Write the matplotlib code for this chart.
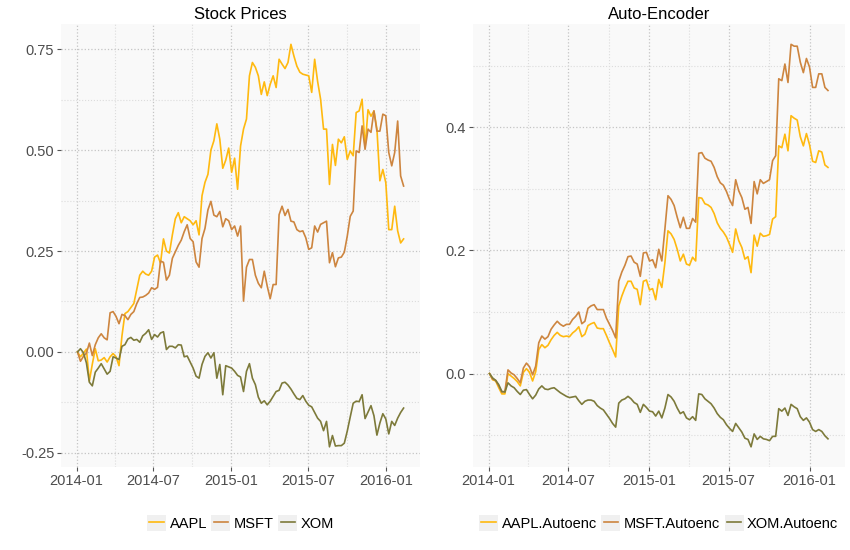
import numpy as np
import pandas as pd
import matplotlib
matplotlib.use('Agg')
import matplotlib.pyplot as plt
import matplotlib.dates as mdates
from matplotlib.legend_handler import HandlerLine2D
from matplotlib.patches import Rectangle
from matplotlib.ticker import FormatStrFormatter, MultipleLocator

plt.rcParams['font.family'] = ['Liberation Sans', 'DejaVu Sans']

# weekly cumulative returns
aapl = [0.00, -0.012, -0.003, 0.007, -0.072, -0.03, 0.008, -0.022, -0.02, -0.014,
        -0.025, -0.012, -0.004, -0.012, -0.034, 0.04, 0.095, 0.10, 0.11, 0.12,
        0.155, 0.19, 0.20, 0.193, 0.19, 0.20, 0.235, 0.24, 0.22, 0.28,
        0.25, 0.245, 0.29, 0.33, 0.345, 0.32, 0.335, 0.33, 0.325, 0.315,
        0.325, 0.29, 0.387, 0.42, 0.44, 0.50, 0.523, 0.565, 0.527, 0.455,
        0.475, 0.505, 0.445, 0.48, 0.403, 0.51, 0.552, 0.577, 0.684, 0.717,
        0.705, 0.684, 0.638, 0.669, 0.635, 0.663, 0.684, 0.655, 0.725, 0.713,
        0.702, 0.717, 0.762, 0.733, 0.708, 0.693, 0.688, 0.686, 0.684, 0.643,
        0.725, 0.67, 0.626, 0.552, 0.552, 0.415, 0.514, 0.462, 0.527, 0.518,
        0.533, 0.477, 0.498, 0.486, 0.593, 0.597, 0.626, 0.506, 0.60, 0.584,
        0.597, 0.552, 0.424, 0.452, 0.419, 0.303, 0.303, 0.361, 0.30, 0.27,
        0.28]
msft = [0.00, -0.023, -0.011, -0.003, 0.022, -0.009, 0.018, 0.035, 0.045, 0.035,
        0.03, 0.097, 0.10, 0.088, 0.07, 0.093, 0.09, 0.08, 0.093, 0.10,
        0.12, 0.135, 0.136, 0.14, 0.146, 0.159, 0.155, 0.16, 0.225, 0.222,
        0.178, 0.19, 0.232, 0.248, 0.264, 0.277, 0.298, 0.315, 0.281, 0.273,
        0.223, 0.21, 0.281, 0.306, 0.352, 0.373, 0.339, 0.335, 0.348, 0.31,
        0.33, 0.325, 0.303, 0.312, 0.287, 0.312, 0.126, 0.21, 0.229, 0.229,
        0.19, 0.17, 0.159, 0.20, 0.163, 0.132, 0.167, 0.167, 0.34, 0.361,
        0.338, 0.353, 0.324, 0.322, 0.303, 0.298, 0.30, 0.283, 0.254, 0.258,
        0.312, 0.297, 0.316, 0.32, 0.324, 0.221, 0.246, 0.211, 0.233, 0.235,
        0.247, 0.287, 0.336, 0.349, 0.498, 0.494, 0.56, 0.502, 0.552, 0.544,
        0.597, 0.547, 0.547, 0.589, 0.585, 0.494, 0.461, 0.494, 0.572, 0.436,
        0.411]
xom = [0.00, 0.008, -0.002, -0.027, -0.075, -0.084, -0.05, -0.04, -0.029, -0.042,
       -0.055, -0.048, -0.012, -0.015, -0.019, 0.014, 0.018, 0.032, 0.036, 0.029,
       0.031, 0.024, 0.04, 0.046, 0.055, 0.031, 0.043, 0.037, 0.047, 0.05,
       0.006, 0.014, 0.014, 0.01, 0.018, 0.017, -0.012, -0.01, -0.025, -0.04,
       -0.06, -0.065, -0.031, -0.011, -0.002, -0.015, -0.002, -0.065, -0.031, -0.106,
       -0.034, -0.037, -0.04, -0.048, -0.058, -0.062, -0.098, -0.048, -0.029, -0.065,
       -0.081, -0.112, -0.127, -0.121, -0.131, -0.122, -0.11, -0.098, -0.095, -0.077,
       -0.075, -0.082, -0.092, -0.104, -0.115, -0.118, -0.108, -0.122, -0.132, -0.136,
       -0.15, -0.164, -0.172, -0.195, -0.172, -0.235, -0.207, -0.233, -0.232, -0.232,
       -0.226, -0.196, -0.161, -0.127, -0.122, -0.123, -0.106, -0.165, -0.149, -0.133,
       -0.158, -0.206, -0.176, -0.153, -0.166, -0.203, -0.172, -0.182, -0.164, -0.15,
       -0.139]

aapl_ae = [0.00, -0.01, -0.012, -0.023, -0.033, -0.033, 0.0, -0.004, -0.008, -0.013,
           -0.02, 0.002, 0.008, 0.002, -0.012, 0.003, 0.039, 0.047, 0.042, 0.046,
           0.055, 0.062, 0.067, 0.062, 0.06, 0.061, 0.06, 0.066, 0.07, 0.076,
           0.06, 0.064, 0.078, 0.081, 0.083, 0.074, 0.073, 0.073, 0.062, 0.05,
           0.039, 0.027, 0.11, 0.126, 0.139, 0.15, 0.15, 0.139, 0.137, 0.112,
           0.15, 0.152, 0.136, 0.138, 0.12, 0.153, 0.14, 0.18, 0.232, 0.227,
           0.218, 0.202, 0.183, 0.194, 0.178, 0.176, 0.189, 0.183, 0.286, 0.285,
           0.276, 0.274, 0.27, 0.26, 0.245, 0.236, 0.23, 0.222, 0.21, 0.197,
           0.235, 0.216, 0.205, 0.186, 0.19, 0.164, 0.225, 0.207, 0.228, 0.223,
           0.224, 0.226, 0.251, 0.255, 0.37, 0.367, 0.389, 0.362, 0.419, 0.415,
           0.412, 0.385, 0.37, 0.39, 0.372, 0.345, 0.343, 0.362, 0.36, 0.339,
           0.335]
msft_ae = [0.00, -0.009, -0.011, -0.02, -0.03, -0.029, 0.006, 0.001, -0.002, -0.008,
           -0.015, 0.009, 0.017, 0.011, -0.002, 0.012, 0.05, 0.061, 0.056, 0.06,
           0.072, 0.079, 0.085, 0.08, 0.077, 0.08, 0.08, 0.088, 0.093, 0.10,
           0.081, 0.085, 0.106, 0.11, 0.112, 0.104, 0.104, 0.104, 0.09, 0.08,
           0.07, 0.058, 0.15, 0.165, 0.176, 0.19, 0.191, 0.181, 0.178, 0.158,
           0.196, 0.197, 0.183, 0.185, 0.172, 0.202, 0.183, 0.235, 0.289, 0.283,
           0.273, 0.254, 0.237, 0.254, 0.236, 0.236, 0.252, 0.246, 0.358, 0.359,
           0.35, 0.347, 0.345, 0.335, 0.32, 0.31, 0.306, 0.296, 0.283, 0.273,
           0.315, 0.297, 0.286, 0.267, 0.27, 0.244, 0.312, 0.292, 0.315, 0.309,
           0.312, 0.315, 0.346, 0.354, 0.479, 0.476, 0.503, 0.473, 0.535, 0.532,
           0.532, 0.506, 0.489, 0.512, 0.498, 0.465, 0.465, 0.487, 0.487, 0.465,
           0.46]
xom_ae = [0.00, -0.007, -0.011, -0.018, -0.029, -0.03, -0.015, -0.02, -0.023, -0.029,
          -0.034, -0.027, -0.026, -0.034, -0.041, -0.035, -0.025, -0.02, -0.025, -0.026,
          -0.024, -0.023, -0.027, -0.031, -0.034, -0.037, -0.039, -0.038, -0.037, -0.044,
          -0.05, -0.045, -0.043, -0.043, -0.045, -0.052, -0.056, -0.059, -0.066, -0.073,
          -0.081, -0.087, -0.048, -0.043, -0.041, -0.037, -0.041, -0.047, -0.05, -0.063,
          -0.05, -0.055, -0.061, -0.062, -0.069, -0.061, -0.072, -0.056, -0.034, -0.038,
          -0.045, -0.056, -0.065, -0.062, -0.072, -0.075, -0.07, -0.076, -0.033, -0.034,
          -0.041, -0.045, -0.049, -0.056, -0.065, -0.071, -0.075, -0.083, -0.089, -0.094,
          -0.081, -0.088, -0.095, -0.105, -0.107, -0.119, -0.098, -0.107, -0.102, -0.106,
          -0.107, -0.109, -0.102, -0.102, -0.057, -0.061, -0.056, -0.068, -0.05, -0.054,
          -0.057, -0.07, -0.076, -0.072, -0.079, -0.091, -0.094, -0.091, -0.094, -0.101,
          -0.106]

dates = pd.date_range('2014-01-03', periods=len(aapl), freq='7D')

colors = ['#FFB90F', '#CD853F', '#7D7A3A']


class KeyBox(HandlerLine2D):
    # ggplot-like legend key: grey square with a short line
    def create_artists(self, legend, orig_handle, xdescent, ydescent,
                       width, height, fontsize, trans):
        arts = super().create_artists(legend, orig_handle, xdescent, ydescent,
                                      width, height, fontsize, trans)
        line = arts[0]
        yd = np.asarray(line.get_ydata())
        line.set_data(np.linspace(-xdescent + 0.12 * width,
                                  -xdescent + 0.88 * width, len(yd)), yd)
        bg = Rectangle((-xdescent, -ydescent), width, height,
                       facecolor='#F0F0F0', edgecolor='none', transform=trans)
        return [bg] + list(arts)


def style(ax, title):
    ax.set_facecolor('#F9F9F9')
    for s in ax.spines.values():
        s.set_visible(False)
    ax.margins(x=0.05, y=0.05)
    ax.xaxis.set_major_locator(mdates.MonthLocator(bymonth=[1, 7]))
    ax.xaxis.set_minor_locator(mdates.MonthLocator(bymonth=[4, 10]))
    ax.xaxis.set_major_formatter(mdates.DateFormatter('%Y-%m'))
    ax.grid(True, which='major', linestyle=':', color='#C4C4C4', linewidth=0.9)
    ax.grid(True, which='minor', linestyle=':', color='#DCDCDC', linewidth=0.8)
    ax.tick_params(which='major', length=3, color='#555555', labelcolor='#4D4D4D',
                   labelsize=10.5, pad=2)
    ax.tick_params(which='minor', length=0)
    ax.set_axisbelow(True)
    ax.set_title(title, fontsize=12, pad=4)


fig = plt.figure(figsize=(8.5, 5.5), dpi=100)
ax1 = fig.add_axes([0.072, 0.151, 0.422, 0.805])
ax2 = fig.add_axes([0.556, 0.151, 0.438, 0.805])

for vals, name, c in zip([aapl, msft, xom], ['AAPL', 'MSFT', 'XOM'], colors):
    ax1.plot(dates, vals, color=c, lw=1.2, label=name)
for vals, name, c in zip([aapl_ae, msft_ae, xom_ae],
                         ['AAPL.Autoenc', 'MSFT.Autoenc', 'XOM.Autoenc'], colors):
    ax2.plot(dates, vals, color=c, lw=1.2, label=name)

style(ax1, 'Stock Prices')
style(ax2, 'Auto-Encoder')
ax1.yaxis.set_major_locator(MultipleLocator(0.25))
ax1.yaxis.set_minor_locator(MultipleLocator(0.125))
ax1.yaxis.set_major_formatter(FormatStrFormatter('%.2f'))
ax2.yaxis.set_major_locator(MultipleLocator(0.2))
ax2.yaxis.set_minor_locator(MultipleLocator(0.1))
ax2.yaxis.set_major_formatter(FormatStrFormatter('%.1f'))

for ax in (ax1, ax2):
    ax.legend(loc='center', bbox_to_anchor=(0.5, -0.127), ncol=3, frameon=False,
              fontsize=10.5, handlelength=1.3, handleheight=1.3,
              handletextpad=0.25, columnspacing=0.3,
              handler_map={matplotlib.lines.Line2D: KeyBox()})

fig.savefig('out.png', dpi=100)
